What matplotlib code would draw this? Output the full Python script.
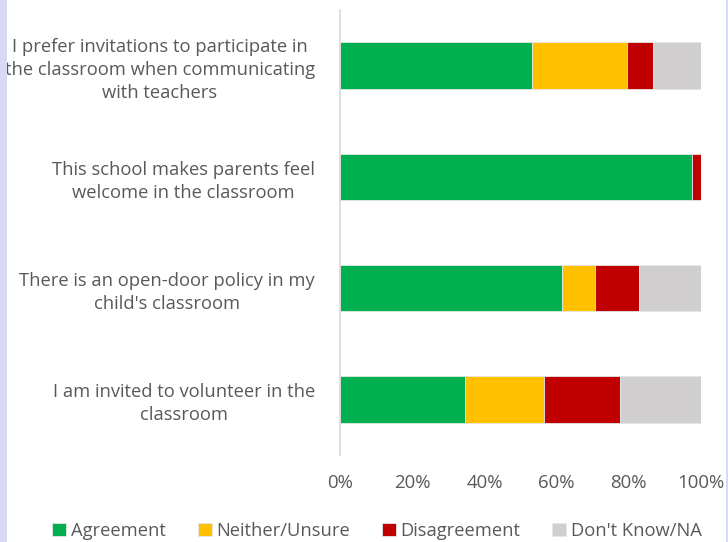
import matplotlib
matplotlib.use("Agg")
import matplotlib.pyplot as plt
from matplotlib.patches import Rectangle
import numpy as np

categories = [
    "I prefer invitations to participate in\nthe classroom when communicating\nwith teachers",
    "This school makes parents feel\nwelcome in the classroom",
    "There is an open-door policy in my\nchild's classroom",
    "I am invited to volunteer in the\nclassroom",
]
series_names = ["Agreement", "Neither/Unsure", "Disagreement", "Don't Know/NA"]
agreement = [53.2, 97.6, 61.6, 34.6]
neither = [26.2, 0.0, 9.0, 22.0]
disagreement = [7.2, 2.4, 12.1, 21.1]
dont_know = [13.4, 0.0, 17.3, 22.3]
xticks = [0, 20, 40, 60, 80, 100]
xtick_labels = ["0%", "20%", "40%", "60%", "80%", "100%"]

colors = ["#00B050", "#FFC000", "#C00000", "#D0CECE"]
text_color = "#595959"
font = "Open Sans"

fig = plt.figure(figsize=(7.28, 5.42), dpi=100)
fig.patches.append(Rectangle((0, 0), 7 / 728, 1, transform=fig.transFigure,
                             facecolor="#D9D9F7", edgecolor="none", zorder=0))
fig.patches.append(Rectangle((726 / 728, 0), 2 / 728, 1, transform=fig.transFigure,
                             facecolor="#D9D9F7", edgecolor="none", zorder=0))

ax = fig.add_axes([340 / 728, 1 - 455 / 542, 361 / 728, 445 / 542])
y = np.arange(len(categories))
left = np.zeros(len(categories))
for vals, name, c in zip([agreement, neither, disagreement, dont_know], series_names, colors):
    vals = np.array(vals)
    ax.barh(y, vals, left=left, height=0.42, color=c, label=name,
            edgecolor="#E6E6E6", linewidth=0.6)
    left += vals

ax.set_xlim(0, 100)
ax.set_ylim(len(categories) - 0.5, -0.5)
ax.set_yticks(y)
ax.set_yticklabels(categories, fontsize=13.2, color=text_color, family=font,
                   multialignment="center", linespacing=1.36)
ax.set_xticks(xticks)
ax.set_xticklabels(xtick_labels, fontsize=13.4, color=text_color, family=font)
ax.tick_params(axis="both", length=0)
ax.tick_params(axis="y", pad=18)
ax.tick_params(axis="x", pad=14)
for s in ["top", "right", "bottom"]:
    ax.spines[s].set_visible(False)
ax.spines["left"].set_color("#D9D9D9")
ax.spines["left"].set_linewidth(1.2)

leg = fig.legend(loc="center", bbox_to_anchor=(377 / 728, 1 - 531 / 542), ncol=4,
                 frameon=False, prop={"family": font, "size": 13.2},
                 handlelength=0.75, handleheight=0.75, handletextpad=0.25,
                 columnspacing=1.75, borderaxespad=0)
for t in leg.get_texts():
    t.set_color(text_color)

fig.savefig("out.png", dpi=100)
